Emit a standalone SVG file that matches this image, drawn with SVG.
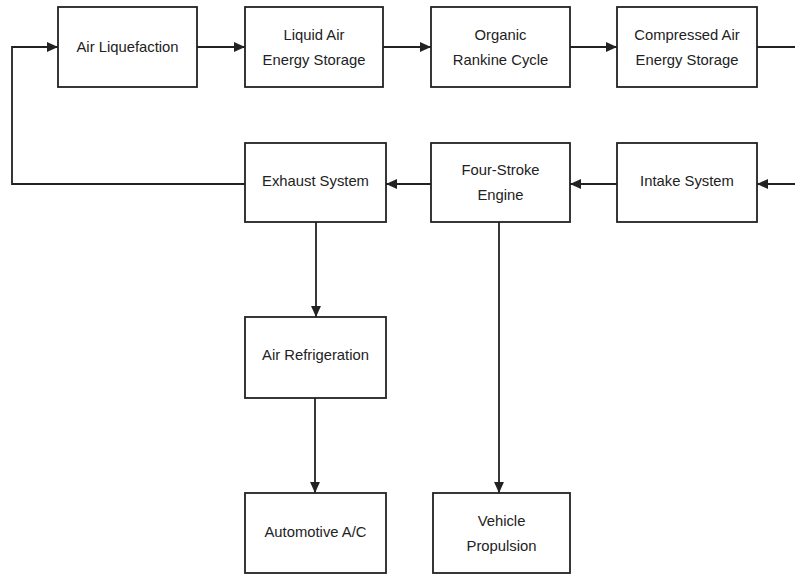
<svg xmlns="http://www.w3.org/2000/svg" width="795" height="574" viewBox="0 0 795 574">
<style>
.box{fill:#fff;stroke:#222;stroke-width:1.8}
.lbl{font-family:"Liberation Sans",Arial,sans-serif;font-size:14.8px;fill:#222;text-anchor:middle}
.conn{fill:none;stroke:#222;stroke-width:1.8}
</style>
<defs>
<marker id="arr" viewBox="0 0 10 10" refX="10" refY="5" markerWidth="11" markerHeight="11" markerUnits="userSpaceOnUse" orient="auto">
<path d="M0,0.5 L10,5 L0,9.5 Z" fill="#222"/>
</marker>
</defs>
<rect width="795" height="574" fill="#fff"/>
<g id="connectors">
<path class="conn" d="M197,47 H245" marker-end="url(#arr)"/>
<path class="conn" d="M383,47 H431" marker-end="url(#arr)"/>
<path class="conn" d="M570,47 H617" marker-end="url(#arr)"/>
<path class="conn" d="M757,47 H795"/>
<path class="conn" d="M795,184 H757" marker-end="url(#arr)"/>
<path class="conn" d="M617,184 H570" marker-end="url(#arr)"/>
<path class="conn" d="M431,184 H386" marker-end="url(#arr)"/>
<path class="conn" d="M245,184 H12 V47 H58" marker-end="url(#arr)"/>
<path class="conn" d="M316,222 V317" marker-end="url(#arr)"/>
<path class="conn" d="M315,398 V493" marker-end="url(#arr)"/>
<path class="conn" d="M499,222 V493" marker-end="url(#arr)"/>
</g>
<g id="air-liquefaction">
<rect class="box" x="58" y="7" width="139" height="80"/>
<text class="lbl" x="127.5" y="52">Air Liquefaction</text>
</g>
<g id="liquid-air-energy-storage">
<rect class="box" x="245" y="7" width="138" height="80"/>
<text class="lbl" x="314" y="40">Liquid Air</text>
<text class="lbl" x="314" y="65">Energy Storage</text>
</g>
<g id="organic-rankine-cycle">
<rect class="box" x="431" y="7" width="139" height="80"/>
<text class="lbl" x="500.5" y="40">Organic</text>
<text class="lbl" x="500.5" y="65">Rankine Cycle</text>
</g>
<g id="compressed-air-energy-storage">
<rect class="box" x="617" y="7" width="140" height="80"/>
<text class="lbl" x="687" y="40">Compressed Air</text>
<text class="lbl" x="687" y="65">Energy Storage</text>
</g>
<g id="exhaust-system">
<rect class="box" x="245" y="143" width="141" height="79"/>
<text class="lbl" x="315.5" y="186">Exhaust System</text>
</g>
<g id="four-stroke-engine">
<rect class="box" x="431" y="143" width="139" height="79"/>
<text class="lbl" x="500.5" y="175">Four-Stroke</text>
<text class="lbl" x="500.5" y="200">Engine</text>
</g>
<g id="intake-system">
<rect class="box" x="617" y="143" width="140" height="79"/>
<text class="lbl" x="687" y="186">Intake System</text>
</g>
<g id="air-refrigeration">
<rect class="box" x="245" y="317" width="141" height="81"/>
<text class="lbl" x="315.5" y="360">Air Refrigeration</text>
</g>
<g id="automotive-ac">
<rect class="box" x="245" y="493" width="141" height="80"/>
<text class="lbl" x="315.5" y="537">Automotive A/C</text>
</g>
<g id="vehicle-propulsion">
<rect class="box" x="433" y="493" width="137" height="80"/>
<text class="lbl" x="501.5" y="526">Vehicle</text>
<text class="lbl" x="501.5" y="551">Propulsion</text>
</g>
</svg>
